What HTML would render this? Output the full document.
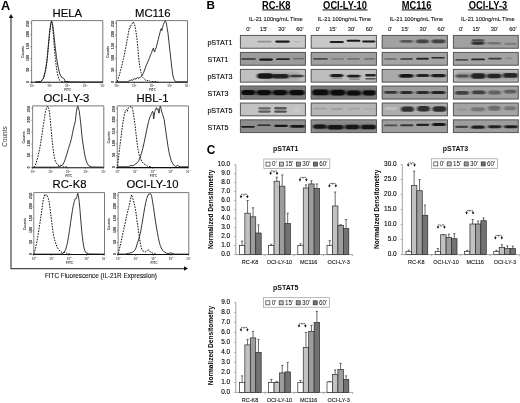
<!DOCTYPE html>
<html lang="en"><head><meta charset="utf-8"><title>Figure</title>
<style>html,body{margin:0;padding:0;background:#fff;}svg{display:block;}text{font-family:'Liberation Sans', Arial, sans-serif;}</style>
</head><body>
<svg width="520" height="403" viewBox="0 0 520 403">
<defs>
<filter id="bl0" x="-20%" y="-200%" width="140%" height="500%"><feGaussianBlur stdDeviation="0.7 0.55"/></filter>
<filter id="bl1" x="-20%" y="-200%" width="140%" height="500%"><feGaussianBlur stdDeviation="0.9 0.75"/></filter>
<filter id="bl2" x="-20%" y="-200%" width="140%" height="500%"><feGaussianBlur stdDeviation="1.6 1.4"/></filter>
<filter id="soft" x="-5%" y="-5%" width="110%" height="110%"><feGaussianBlur stdDeviation="0.35"/></filter>
</defs>
<rect width="520" height="403" fill="#fff"/>
<g filter="url(#soft)">
<text x="0.90" y="10.40" font-size="11.9" font-weight="bold" text-anchor="start" fill="#000" textLength="9.2" lengthAdjust="spacingAndGlyphs">A</text>
<path d="M11.0 17 V268.5 H184.5" fill="none" stroke="#4a4a4a" stroke-width="1.25"/>
<path d="M11.0 14.0 L8.8 18.0 H13.2 Z" fill="#111"/>
<path d="M188 268.5 L184 266.3 V270.7 Z" fill="#111"/>
<text transform="translate(6.60,136.50) rotate(-90)" font-size="6.4" font-weight="normal" text-anchor="middle" fill="#333">Counts</text>
<text x="45.00" y="278.20" font-size="6.34" font-weight="normal" text-anchor="start" fill="#111" stroke="#111" stroke-width="0.1">FITC Fluorescence (IL-21R Expression)</text>
<text x="67.30" y="17.30" font-size="11.3" font-weight="normal" text-anchor="middle" fill="#000" stroke="#000" stroke-width="0.15">HELA</text>
<path d="M31.60 20.60 H102.80 V82.30" fill="none" stroke="#555" stroke-width="0.8"/>
<path d="M31.60 20.60 V82.30" fill="none" stroke="#777" stroke-width="0.9"/>
<path d="M30.60 82.30 H102.80" fill="none" stroke="#111" stroke-width="1.1"/>
<path d="M30.20 82.30 H31.60" stroke="#444" stroke-width="0.5"/>
<text transform="translate(29.40,82.00) rotate(-90)" font-size="3.7" font-weight="bold" text-anchor="middle" fill="#222">0</text>
<path d="M30.20 70.46 H31.60" stroke="#444" stroke-width="0.5"/>
<text transform="translate(29.40,69.76) rotate(-90)" font-size="3.7" font-weight="bold" text-anchor="middle" fill="#111">50</text>
<path d="M30.20 58.62 H31.60" stroke="#444" stroke-width="0.5"/>
<text transform="translate(29.40,57.92) rotate(-90)" font-size="3.7" font-weight="bold" text-anchor="middle" fill="#111">100</text>
<path d="M30.20 46.78 H31.60" stroke="#444" stroke-width="0.5"/>
<text transform="translate(29.40,46.08) rotate(-90)" font-size="3.7" font-weight="bold" text-anchor="middle" fill="#111">150</text>
<path d="M30.20 34.94 H31.60" stroke="#444" stroke-width="0.5"/>
<text transform="translate(29.40,34.24) rotate(-90)" font-size="3.7" font-weight="bold" text-anchor="middle" fill="#111">200</text>
<path d="M30.20 23.10 H31.60" stroke="#444" stroke-width="0.5"/>
<text transform="translate(29.40,23.80) rotate(-90)" font-size="3.7" font-weight="bold" text-anchor="middle" fill="#111">250</text>
<text transform="translate(23.80,52.05) rotate(-90)" font-size="3.5" font-weight="bold" text-anchor="middle" fill="#333">Counts</text>
<path d="M31.60 82.30 V83.70" stroke="#444" stroke-width="0.5"/>
<text x="31.90" y="87.30" font-size="3.0" font-weight="bold" text-anchor="middle" fill="#555">10<tspan dy="-1.2" font-size="2.4">0</tspan></text>
<path d="M49.27 82.30 V83.70" stroke="#444" stroke-width="0.5"/>
<text x="49.57" y="87.30" font-size="3.0" font-weight="bold" text-anchor="middle" fill="#555">10<tspan dy="-1.2" font-size="2.4">1</tspan></text>
<path d="M66.95 82.30 V83.70" stroke="#444" stroke-width="0.5"/>
<text x="67.25" y="87.30" font-size="3.0" font-weight="bold" text-anchor="middle" fill="#555">10<tspan dy="-1.2" font-size="2.4">2</tspan></text>
<path d="M84.62 82.30 V83.70" stroke="#444" stroke-width="0.5"/>
<text x="84.92" y="87.30" font-size="3.0" font-weight="bold" text-anchor="middle" fill="#555">10<tspan dy="-1.2" font-size="2.4">3</tspan></text>
<path d="M102.30 82.30 V83.70" stroke="#444" stroke-width="0.5"/>
<text x="102.60" y="87.30" font-size="3.0" font-weight="bold" text-anchor="middle" fill="#555">10<tspan dy="-1.2" font-size="2.4">4</tspan></text>
<text x="67.80" y="91.30" font-size="3.3" font-weight="bold" text-anchor="middle" fill="#444" >FITC</text>
<polyline points="35.61,81.80 41.03,81.80 43.74,77.93 45.68,70.19 47.22,59.55 48.58,45.03 49.93,30.52 50.90,23.35 51.68,21.42 52.64,26.64 53.42,35.35 54.39,47.93 55.35,58.58 56.51,68.25 57.68,75.03 59.22,79.87 61.74,81.61 68.51,81.80" fill="none" stroke="#111" stroke-width="1.0" stroke-dasharray="1.6 1.2" stroke-linejoin="round"/>
<polyline points="35.61,81.80 40.45,81.80 43.35,78.32 45.29,71.16 46.84,61.48 48.19,46.97 49.55,32.45 50.71,23.74 51.48,20.90 52.45,23.74 53.42,30.52 54.97,45.03 56.51,57.61 58.06,66.71 59.80,74.06 61.74,77.54 63.67,78.32 65.61,81.42 70.45,81.80 82.06,82.00 102.80,82.00" fill="none" stroke="#1c1c1c" stroke-width="0.88" stroke-linejoin="round"/>
<text x="152.80" y="17.30" font-size="11.3" font-weight="normal" text-anchor="middle" fill="#000" stroke="#000" stroke-width="0.15">MC116</text>
<path d="M116.40 20.60 H187.50 V82.30" fill="none" stroke="#555" stroke-width="0.8"/>
<path d="M116.40 20.60 V82.30" fill="none" stroke="#777" stroke-width="0.9"/>
<path d="M115.40 82.30 H187.50" fill="none" stroke="#111" stroke-width="1.1"/>
<path d="M115.00 82.30 H116.40" stroke="#444" stroke-width="0.5"/>
<text transform="translate(114.20,82.00) rotate(-90)" font-size="3.7" font-weight="bold" text-anchor="middle" fill="#222">0</text>
<path d="M115.00 70.46 H116.40" stroke="#444" stroke-width="0.5"/>
<text transform="translate(114.20,69.76) rotate(-90)" font-size="3.7" font-weight="bold" text-anchor="middle" fill="#111">50</text>
<path d="M115.00 58.62 H116.40" stroke="#444" stroke-width="0.5"/>
<text transform="translate(114.20,57.92) rotate(-90)" font-size="3.7" font-weight="bold" text-anchor="middle" fill="#111">100</text>
<path d="M115.00 46.78 H116.40" stroke="#444" stroke-width="0.5"/>
<text transform="translate(114.20,46.08) rotate(-90)" font-size="3.7" font-weight="bold" text-anchor="middle" fill="#111">150</text>
<path d="M115.00 34.94 H116.40" stroke="#444" stroke-width="0.5"/>
<text transform="translate(114.20,34.24) rotate(-90)" font-size="3.7" font-weight="bold" text-anchor="middle" fill="#111">200</text>
<path d="M115.00 23.10 H116.40" stroke="#444" stroke-width="0.5"/>
<text transform="translate(114.20,23.80) rotate(-90)" font-size="3.7" font-weight="bold" text-anchor="middle" fill="#111">250</text>
<text transform="translate(108.60,52.05) rotate(-90)" font-size="3.5" font-weight="bold" text-anchor="middle" fill="#333">Counts</text>
<path d="M116.40 82.30 V83.70" stroke="#444" stroke-width="0.5"/>
<text x="116.70" y="87.30" font-size="3.0" font-weight="bold" text-anchor="middle" fill="#555">10<tspan dy="-1.2" font-size="2.4">0</tspan></text>
<path d="M134.05 82.30 V83.70" stroke="#444" stroke-width="0.5"/>
<text x="134.35" y="87.30" font-size="3.0" font-weight="bold" text-anchor="middle" fill="#555">10<tspan dy="-1.2" font-size="2.4">1</tspan></text>
<path d="M151.70 82.30 V83.70" stroke="#444" stroke-width="0.5"/>
<text x="152.00" y="87.30" font-size="3.0" font-weight="bold" text-anchor="middle" fill="#555">10<tspan dy="-1.2" font-size="2.4">2</tspan></text>
<path d="M169.35 82.30 V83.70" stroke="#444" stroke-width="0.5"/>
<text x="169.65" y="87.30" font-size="3.0" font-weight="bold" text-anchor="middle" fill="#555">10<tspan dy="-1.2" font-size="2.4">3</tspan></text>
<path d="M187.00 82.30 V83.70" stroke="#444" stroke-width="0.5"/>
<text x="187.30" y="87.30" font-size="3.0" font-weight="bold" text-anchor="middle" fill="#555">10<tspan dy="-1.2" font-size="2.4">4</tspan></text>
<text x="152.55" y="91.30" font-size="3.3" font-weight="bold" text-anchor="middle" fill="#444" >FITC</text>
<polyline points="117.29,81.42 118.06,78.90 119.61,74.06 121.55,66.71 123.48,58.58 125.42,49.29 127.35,39.22 128.51,32.45 129.68,26.64 130.45,27.61 131.22,24.71 132.19,23.74 133.16,21.81 134.13,23.35 135.10,26.64 136.06,32.45 137.03,39.22 138.00,49.87 138.97,60.51 139.93,67.29 140.90,72.13 141.87,75.61 142.84,77.54 144.77,79.48 146.71,80.83 148.64,80.25 150.58,81.80 154.45,81.42 158.32,82.00" fill="none" stroke="#111" stroke-width="1.0" stroke-dasharray="1.6 1.2" stroke-linejoin="round"/>
<polyline points="117.29,81.80 127.35,81.80 129.68,80.64 131.22,79.87 132.77,80.25 134.13,78.71 136.06,79.09 137.42,77.54 138.97,78.32 140.51,76.77 141.87,76.00 142.84,74.06 143.80,72.13 145.16,68.25 146.71,64.38 148.26,60.90 149.61,57.61 150.58,54.71 151.55,52.77 152.51,49.87 153.48,47.93 154.06,50.84 154.64,52.00 155.42,49.29 156.38,46.97 157.35,43.10 158.32,39.22 159.29,35.35 160.25,31.48 161.22,28.58 161.80,30.71 162.58,27.61 163.35,24.71 164.13,22.77 165.09,20.90 166.06,21.81 167.03,27.23 168.00,33.42 168.96,42.13 169.93,50.84 170.90,59.55 171.87,68.25 172.83,75.03 173.80,78.90 175.35,81.42 177.67,81.80 187.50,81.80" fill="none" stroke="#1c1c1c" stroke-width="0.88" stroke-linejoin="round"/>
<text x="66.30" y="101.90" font-size="11.3" font-weight="normal" text-anchor="middle" fill="#000" stroke="#000" stroke-width="0.15">OCI-LY-3</text>
<path d="M32.60 105.90 H103.80 V167.80" fill="none" stroke="#555" stroke-width="0.8"/>
<path d="M32.60 105.90 V167.80" fill="none" stroke="#777" stroke-width="0.9"/>
<path d="M31.60 167.80 H103.80" fill="none" stroke="#111" stroke-width="1.1"/>
<path d="M31.20 167.80 H32.60" stroke="#444" stroke-width="0.5"/>
<text transform="translate(30.40,167.50) rotate(-90)" font-size="3.7" font-weight="bold" text-anchor="middle" fill="#222">0</text>
<path d="M31.20 155.92 H32.60" stroke="#444" stroke-width="0.5"/>
<text transform="translate(30.40,155.22) rotate(-90)" font-size="3.7" font-weight="bold" text-anchor="middle" fill="#111">50</text>
<path d="M31.20 144.04 H32.60" stroke="#444" stroke-width="0.5"/>
<text transform="translate(30.40,143.34) rotate(-90)" font-size="3.7" font-weight="bold" text-anchor="middle" fill="#111">100</text>
<path d="M31.20 132.16 H32.60" stroke="#444" stroke-width="0.5"/>
<text transform="translate(30.40,131.46) rotate(-90)" font-size="3.7" font-weight="bold" text-anchor="middle" fill="#111">150</text>
<path d="M31.20 120.28 H32.60" stroke="#444" stroke-width="0.5"/>
<text transform="translate(30.40,119.58) rotate(-90)" font-size="3.7" font-weight="bold" text-anchor="middle" fill="#111">200</text>
<path d="M31.20 108.40 H32.60" stroke="#444" stroke-width="0.5"/>
<text transform="translate(30.40,109.10) rotate(-90)" font-size="3.7" font-weight="bold" text-anchor="middle" fill="#111">250</text>
<text transform="translate(24.80,137.45) rotate(-90)" font-size="3.5" font-weight="bold" text-anchor="middle" fill="#333">Counts</text>
<path d="M32.60 167.80 V169.20" stroke="#444" stroke-width="0.5"/>
<text x="32.90" y="172.80" font-size="3.0" font-weight="bold" text-anchor="middle" fill="#555">10<tspan dy="-1.2" font-size="2.4">0</tspan></text>
<path d="M50.27 167.80 V169.20" stroke="#444" stroke-width="0.5"/>
<text x="50.57" y="172.80" font-size="3.0" font-weight="bold" text-anchor="middle" fill="#555">10<tspan dy="-1.2" font-size="2.4">1</tspan></text>
<path d="M67.95 167.80 V169.20" stroke="#444" stroke-width="0.5"/>
<text x="68.25" y="172.80" font-size="3.0" font-weight="bold" text-anchor="middle" fill="#555">10<tspan dy="-1.2" font-size="2.4">2</tspan></text>
<path d="M85.62 167.80 V169.20" stroke="#444" stroke-width="0.5"/>
<text x="85.92" y="172.80" font-size="3.0" font-weight="bold" text-anchor="middle" fill="#555">10<tspan dy="-1.2" font-size="2.4">3</tspan></text>
<path d="M103.30 167.80 V169.20" stroke="#444" stroke-width="0.5"/>
<text x="103.60" y="172.80" font-size="3.0" font-weight="bold" text-anchor="middle" fill="#555">10<tspan dy="-1.2" font-size="2.4">4</tspan></text>
<text x="68.80" y="176.80" font-size="3.3" font-weight="bold" text-anchor="middle" fill="#444" >FITC</text>
<polyline points="33.68,167.16 34.64,166.19 36.00,163.48 37.55,158.06 39.10,151.29 40.45,144.51 41.81,135.80 43.35,125.16 44.51,117.42 45.68,110.64 46.64,107.35 47.61,106.20 48.58,108.13 49.55,112.58 50.32,120.32 51.10,129.03 52.06,139.67 53.03,148.38 54.00,155.16 54.97,160.00 56.32,163.09 57.87,164.83 59.80,166.00 61.74,165.42 63.67,166.77 67.55,166.96" fill="none" stroke="#111" stroke-width="1.0" stroke-dasharray="1.6 1.2" stroke-linejoin="round"/>
<polyline points="33.29,167.16 56.90,167.16 59.80,166.38 62.71,164.83 64.26,161.93 65.61,158.06 66.96,153.80 68.51,148.38 70.06,143.55 71.42,138.71 72.38,133.87 73.35,129.03 74.32,125.16 75.29,121.29 75.87,116.45 76.45,111.23 77.22,107.74 77.80,106.20 78.38,108.13 79.16,110.64 79.93,116.45 80.51,121.29 81.29,129.03 82.06,136.77 83.03,144.13 84.00,150.32 84.96,155.74 85.93,160.00 87.48,163.87 88.83,165.80 91.74,166.96 103.74,167.16" fill="none" stroke="#1c1c1c" stroke-width="0.88" stroke-linejoin="round"/>
<text x="152.50" y="101.90" font-size="11.3" font-weight="normal" text-anchor="middle" fill="#000" stroke="#000" stroke-width="0.15">HBL-1</text>
<path d="M117.30 105.90 H188.50 V167.60" fill="none" stroke="#555" stroke-width="0.8"/>
<path d="M117.30 105.90 V167.60" fill="none" stroke="#777" stroke-width="0.9"/>
<path d="M116.30 167.60 H188.50" fill="none" stroke="#111" stroke-width="1.1"/>
<path d="M115.90 167.60 H117.30" stroke="#444" stroke-width="0.5"/>
<text transform="translate(115.10,167.30) rotate(-90)" font-size="3.7" font-weight="bold" text-anchor="middle" fill="#222">0</text>
<path d="M115.90 155.76 H117.30" stroke="#444" stroke-width="0.5"/>
<text transform="translate(115.10,155.06) rotate(-90)" font-size="3.7" font-weight="bold" text-anchor="middle" fill="#111">50</text>
<path d="M115.90 143.92 H117.30" stroke="#444" stroke-width="0.5"/>
<text transform="translate(115.10,143.22) rotate(-90)" font-size="3.7" font-weight="bold" text-anchor="middle" fill="#111">100</text>
<path d="M115.90 132.08 H117.30" stroke="#444" stroke-width="0.5"/>
<text transform="translate(115.10,131.38) rotate(-90)" font-size="3.7" font-weight="bold" text-anchor="middle" fill="#111">150</text>
<path d="M115.90 120.24 H117.30" stroke="#444" stroke-width="0.5"/>
<text transform="translate(115.10,119.54) rotate(-90)" font-size="3.7" font-weight="bold" text-anchor="middle" fill="#111">200</text>
<path d="M115.90 108.40 H117.30" stroke="#444" stroke-width="0.5"/>
<text transform="translate(115.10,109.10) rotate(-90)" font-size="3.7" font-weight="bold" text-anchor="middle" fill="#111">250</text>
<text transform="translate(109.50,137.35) rotate(-90)" font-size="3.5" font-weight="bold" text-anchor="middle" fill="#333">Counts</text>
<path d="M117.30 167.60 V169.00" stroke="#444" stroke-width="0.5"/>
<text x="117.60" y="172.60" font-size="3.0" font-weight="bold" text-anchor="middle" fill="#555">10<tspan dy="-1.2" font-size="2.4">0</tspan></text>
<path d="M134.97 167.60 V169.00" stroke="#444" stroke-width="0.5"/>
<text x="135.28" y="172.60" font-size="3.0" font-weight="bold" text-anchor="middle" fill="#555">10<tspan dy="-1.2" font-size="2.4">1</tspan></text>
<path d="M152.65 167.60 V169.00" stroke="#444" stroke-width="0.5"/>
<text x="152.95" y="172.60" font-size="3.0" font-weight="bold" text-anchor="middle" fill="#555">10<tspan dy="-1.2" font-size="2.4">2</tspan></text>
<path d="M170.32 167.60 V169.00" stroke="#444" stroke-width="0.5"/>
<text x="170.62" y="172.60" font-size="3.0" font-weight="bold" text-anchor="middle" fill="#555">10<tspan dy="-1.2" font-size="2.4">3</tspan></text>
<path d="M188.00 167.60 V169.00" stroke="#444" stroke-width="0.5"/>
<text x="188.30" y="172.60" font-size="3.0" font-weight="bold" text-anchor="middle" fill="#555">10<tspan dy="-1.2" font-size="2.4">4</tspan></text>
<text x="153.50" y="176.60" font-size="3.3" font-weight="bold" text-anchor="middle" fill="#444" >FITC</text>
<polyline points="117.68,165.80 118.26,160.00 119.61,148.38 120.97,137.74 122.52,125.16 123.87,117.03 125.42,110.64 126.58,109.68 127.35,111.23 128.32,107.74 129.68,107.35 131.22,106.20 132.19,107.74 132.77,110.06 133.93,117.42 135.10,125.16 136.06,134.45 137.03,142.58 138.00,149.35 138.97,154.19 140.32,158.06 141.87,161.54 143.80,163.87 145.74,164.83 147.67,166.19 151.55,166.77" fill="none" stroke="#111" stroke-width="1.0" stroke-dasharray="1.6 1.2" stroke-linejoin="round"/>
<polyline points="117.30,166.77 128.32,166.77 130.84,165.42 133.16,165.80 135.10,164.25 137.03,162.90 138.58,160.96 139.93,158.06 141.29,153.80 142.84,148.38 144.19,142.19 145.74,134.84 147.09,128.06 148.64,121.29 150.19,116.45 151.55,113.55 152.51,111.23 153.09,112.00 153.67,118.97 154.26,115.48 154.84,111.61 155.61,109.29 156.38,107.74 157.16,109.68 157.93,108.71 158.51,112.00 159.09,113.16 159.67,108.71 160.25,106.20 161.03,108.71 161.80,112.00 162.96,115.48 164.13,119.35 165.09,126.13 166.06,132.90 167.03,139.67 168.00,146.45 168.96,151.87 169.93,156.13 171.29,160.77 172.83,163.87 174.38,165.80 175.74,166.77 177.29,165.42 178.83,166.19 180.58,166.77 188.32,166.77" fill="none" stroke="#1c1c1c" stroke-width="0.88" stroke-linejoin="round"/>
<text x="69.50" y="188.30" font-size="11.3" font-weight="normal" text-anchor="middle" fill="#000" stroke="#000" stroke-width="0.15">RC-K8</text>
<path d="M33.80 192.60 H104.50 V254.50" fill="none" stroke="#555" stroke-width="0.8"/>
<path d="M33.80 192.60 V254.50" fill="none" stroke="#777" stroke-width="0.9"/>
<path d="M32.80 254.50 H104.50" fill="none" stroke="#111" stroke-width="1.1"/>
<path d="M32.40 254.50 H33.80" stroke="#444" stroke-width="0.5"/>
<text transform="translate(31.60,254.20) rotate(-90)" font-size="3.7" font-weight="bold" text-anchor="middle" fill="#222">0</text>
<path d="M32.40 242.62 H33.80" stroke="#444" stroke-width="0.5"/>
<text transform="translate(31.60,241.92) rotate(-90)" font-size="3.7" font-weight="bold" text-anchor="middle" fill="#111">50</text>
<path d="M32.40 230.74 H33.80" stroke="#444" stroke-width="0.5"/>
<text transform="translate(31.60,230.04) rotate(-90)" font-size="3.7" font-weight="bold" text-anchor="middle" fill="#111">100</text>
<path d="M32.40 218.86 H33.80" stroke="#444" stroke-width="0.5"/>
<text transform="translate(31.60,218.16) rotate(-90)" font-size="3.7" font-weight="bold" text-anchor="middle" fill="#111">150</text>
<path d="M32.40 206.98 H33.80" stroke="#444" stroke-width="0.5"/>
<text transform="translate(31.60,206.28) rotate(-90)" font-size="3.7" font-weight="bold" text-anchor="middle" fill="#111">200</text>
<path d="M32.40 195.10 H33.80" stroke="#444" stroke-width="0.5"/>
<text transform="translate(31.60,195.80) rotate(-90)" font-size="3.7" font-weight="bold" text-anchor="middle" fill="#111">250</text>
<text transform="translate(26.00,224.15) rotate(-90)" font-size="3.5" font-weight="bold" text-anchor="middle" fill="#333">Counts</text>
<path d="M33.80 254.50 V255.90" stroke="#444" stroke-width="0.5"/>
<text x="34.10" y="259.50" font-size="3.0" font-weight="bold" text-anchor="middle" fill="#555">10<tspan dy="-1.2" font-size="2.4">0</tspan></text>
<path d="M51.35 254.50 V255.90" stroke="#444" stroke-width="0.5"/>
<text x="51.65" y="259.50" font-size="3.0" font-weight="bold" text-anchor="middle" fill="#555">10<tspan dy="-1.2" font-size="2.4">1</tspan></text>
<path d="M68.90 254.50 V255.90" stroke="#444" stroke-width="0.5"/>
<text x="69.20" y="259.50" font-size="3.0" font-weight="bold" text-anchor="middle" fill="#555">10<tspan dy="-1.2" font-size="2.4">2</tspan></text>
<path d="M86.45 254.50 V255.90" stroke="#444" stroke-width="0.5"/>
<text x="86.75" y="259.50" font-size="3.0" font-weight="bold" text-anchor="middle" fill="#555">10<tspan dy="-1.2" font-size="2.4">3</tspan></text>
<path d="M104.00 254.50 V255.90" stroke="#444" stroke-width="0.5"/>
<text x="104.30" y="259.50" font-size="3.0" font-weight="bold" text-anchor="middle" fill="#555">10<tspan dy="-1.2" font-size="2.4">4</tspan></text>
<text x="69.75" y="263.50" font-size="3.3" font-weight="bold" text-anchor="middle" fill="#444" >FITC</text>
<polyline points="33.80,253.93 34.64,251.42 35.61,247.93 36.97,241.16 38.52,232.45 39.87,223.74 41.42,213.10 42.39,205.74 43.35,199.55 44.13,196.06 44.90,194.13 45.68,195.29 46.45,194.71 47.22,195.68 48.19,198.00 49.16,201.87 50.13,209.22 51.10,216.97 52.06,224.71 53.03,232.45 54.39,239.22 55.93,244.06 57.29,247.54 58.84,249.87 60.77,251.80 62.71,252.77 65.03,252.19 67.55,253.74 70.45,253.93" fill="none" stroke="#111" stroke-width="1.0" stroke-dasharray="1.6 1.2" stroke-linejoin="round"/>
<polyline points="33.80,254.12 60.77,254.12 62.71,253.54 64.26,252.19 65.61,249.87 66.58,246.38 67.55,242.13 68.51,236.71 69.48,230.51 70.45,223.74 71.42,216.97 72.38,210.77 73.35,205.35 74.32,201.48 75.29,198.58 76.06,198.77 76.64,197.61 77.22,195.29 77.80,193.35 78.38,196.06 79.16,201.48 79.93,209.22 80.51,216.97 81.29,225.67 82.06,234.38 83.03,242.13 84.00,247.93 84.96,251.03 85.93,252.77 88.83,253.93 104.32,254.12" fill="none" stroke="#1c1c1c" stroke-width="0.88" stroke-linejoin="round"/>
<text x="152.50" y="188.30" font-size="11.3" font-weight="normal" text-anchor="middle" fill="#000" stroke="#000" stroke-width="0.15">OCI-LY-10</text>
<path d="M118.10 192.60 H188.80 V254.50" fill="none" stroke="#555" stroke-width="0.8"/>
<path d="M118.10 192.60 V254.50" fill="none" stroke="#777" stroke-width="0.9"/>
<path d="M117.10 254.50 H188.80" fill="none" stroke="#111" stroke-width="1.1"/>
<path d="M116.70 254.50 H118.10" stroke="#444" stroke-width="0.5"/>
<text transform="translate(115.90,254.20) rotate(-90)" font-size="3.7" font-weight="bold" text-anchor="middle" fill="#222">0</text>
<path d="M116.70 242.62 H118.10" stroke="#444" stroke-width="0.5"/>
<text transform="translate(115.90,241.92) rotate(-90)" font-size="3.7" font-weight="bold" text-anchor="middle" fill="#111">50</text>
<path d="M116.70 230.74 H118.10" stroke="#444" stroke-width="0.5"/>
<text transform="translate(115.90,230.04) rotate(-90)" font-size="3.7" font-weight="bold" text-anchor="middle" fill="#111">100</text>
<path d="M116.70 218.86 H118.10" stroke="#444" stroke-width="0.5"/>
<text transform="translate(115.90,218.16) rotate(-90)" font-size="3.7" font-weight="bold" text-anchor="middle" fill="#111">150</text>
<path d="M116.70 206.98 H118.10" stroke="#444" stroke-width="0.5"/>
<text transform="translate(115.90,206.28) rotate(-90)" font-size="3.7" font-weight="bold" text-anchor="middle" fill="#111">200</text>
<path d="M116.70 195.10 H118.10" stroke="#444" stroke-width="0.5"/>
<text transform="translate(115.90,195.80) rotate(-90)" font-size="3.7" font-weight="bold" text-anchor="middle" fill="#111">250</text>
<text transform="translate(110.30,224.15) rotate(-90)" font-size="3.5" font-weight="bold" text-anchor="middle" fill="#333">Counts</text>
<path d="M118.10 254.50 V255.90" stroke="#444" stroke-width="0.5"/>
<text x="118.40" y="259.50" font-size="3.0" font-weight="bold" text-anchor="middle" fill="#555">10<tspan dy="-1.2" font-size="2.4">0</tspan></text>
<path d="M135.65 254.50 V255.90" stroke="#444" stroke-width="0.5"/>
<text x="135.95" y="259.50" font-size="3.0" font-weight="bold" text-anchor="middle" fill="#555">10<tspan dy="-1.2" font-size="2.4">1</tspan></text>
<path d="M153.20 254.50 V255.90" stroke="#444" stroke-width="0.5"/>
<text x="153.50" y="259.50" font-size="3.0" font-weight="bold" text-anchor="middle" fill="#555">10<tspan dy="-1.2" font-size="2.4">2</tspan></text>
<path d="M170.75 254.50 V255.90" stroke="#444" stroke-width="0.5"/>
<text x="171.05" y="259.50" font-size="3.0" font-weight="bold" text-anchor="middle" fill="#555">10<tspan dy="-1.2" font-size="2.4">3</tspan></text>
<path d="M188.30 254.50 V255.90" stroke="#444" stroke-width="0.5"/>
<text x="188.60" y="259.50" font-size="3.0" font-weight="bold" text-anchor="middle" fill="#555">10<tspan dy="-1.2" font-size="2.4">4</tspan></text>
<text x="154.05" y="263.50" font-size="3.3" font-weight="bold" text-anchor="middle" fill="#444" >FITC</text>
<polyline points="118.10,253.74 119.23,249.48 120.58,244.06 121.93,237.87 123.48,230.51 125.03,223.74 126.39,216.97 127.74,211.16 129.29,205.35 130.45,199.55 131.61,194.71 132.39,196.64 133.16,199.55 134.13,203.42 135.10,207.29 136.06,213.48 137.03,220.84 138.00,227.61 138.97,234.38 139.93,241.16 140.90,246.00 141.87,249.09 142.84,250.83 144.38,251.80 145.74,251.80 147.29,250.45 148.64,249.87 149.61,251.22 150.58,251.80 152.13,252.96 153.48,253.74 156.38,253.93" fill="none" stroke="#111" stroke-width="1.0" stroke-dasharray="1.6 1.2" stroke-linejoin="round"/>
<polyline points="118.10,254.12 125.42,254.12 128.32,253.35 131.22,252.77 133.16,251.80 135.10,249.87 136.26,247.16 137.03,244.06 138.00,241.54 138.97,238.25 139.93,234.77 140.90,230.51 141.87,224.71 142.84,218.90 143.80,213.10 144.77,207.29 145.74,202.64 146.71,198.58 147.67,196.06 148.64,194.13 149.42,194.52 150.19,193.35 150.96,194.13 151.55,195.68 152.51,201.10 153.48,207.29 154.45,214.06 155.42,220.84 156.38,227.03 157.35,232.45 158.32,237.67 159.29,242.13 160.25,245.61 161.22,247.93 162.58,250.25 164.13,251.80 166.06,252.96 168.00,253.74 169.93,252.96 171.87,253.16 173.80,253.93 175.74,254.12 188.80,254.12" fill="none" stroke="#1c1c1c" stroke-width="0.88" stroke-linejoin="round"/>
<text x="206.50" y="9.20" font-size="11.7" font-weight="bold" text-anchor="start" fill="#000" >B</text>
<text x="207.40" y="45.10" font-size="7.15" font-weight="normal" text-anchor="start" fill="#000" stroke="#000" stroke-width="0.12">pSTAT1</text>
<text x="207.40" y="62.10" font-size="7.15" font-weight="normal" text-anchor="start" fill="#000" stroke="#000" stroke-width="0.12">STAT1</text>
<text x="207.40" y="79.05" font-size="7.15" font-weight="normal" text-anchor="start" fill="#000" stroke="#000" stroke-width="0.12">pSTAT3</text>
<text x="207.40" y="95.85" font-size="7.15" font-weight="normal" text-anchor="start" fill="#000" stroke="#000" stroke-width="0.12">STAT3</text>
<text x="207.40" y="112.75" font-size="7.15" font-weight="normal" text-anchor="start" fill="#000" stroke="#000" stroke-width="0.12">pSTAT5</text>
<text x="207.40" y="129.55" font-size="7.15" font-weight="normal" text-anchor="start" fill="#000" stroke="#000" stroke-width="0.12">STAT5</text>
<text transform="translate(276.30,8.75) scale(0.925,1)" font-size="10.1" font-weight="bold" text-anchor="middle" fill="#000">RC-K8</text>
<rect x="262.09" y="9.45" width="28.41" height="0.95" fill="#000"/>
<text x="275.80" y="20.90" font-size="5.7" font-weight="normal" text-anchor="middle" fill="#111" stroke="#111" stroke-width="0.1">IL-21 100ng/mL Time</text>
<text x="248.40" y="30.90" font-size="5.7" font-weight="normal" text-anchor="middle" fill="#111" stroke="#111" stroke-width="0.1">0'</text>
<text x="263.70" y="30.90" font-size="5.7" font-weight="normal" text-anchor="middle" fill="#111" stroke="#111" stroke-width="0.1">15'</text>
<text x="281.80" y="30.90" font-size="5.7" font-weight="normal" text-anchor="middle" fill="#111" stroke="#111" stroke-width="0.1">30'</text>
<text x="299.90" y="30.90" font-size="5.7" font-weight="normal" text-anchor="middle" fill="#111" stroke="#111" stroke-width="0.1">60'</text>
<clipPath id="c00"><rect x="240.0" y="35.0" width="65.80" height="13.60"/></clipPath>
<rect x="240.0" y="35.0" width="65.80" height="13.60" fill="#c8c8c8"/>
<g clip-path="url(#c00)">
<rect x="257" y="40.80" width="15.00" height="1.6" rx="1.80" ry="0.80" fill="#0c0c0c" opacity="0.28" filter="url(#bl0)"/>
<rect x="275" y="40.50" width="15.00" height="2.2" rx="2.10" ry="1.10" fill="#0c0c0c" opacity="0.9" filter="url(#bl0)"/>
<rect x="294" y="41.00" width="7.00" height="1.2" rx="1.60" ry="0.60" fill="#0c0c0c" opacity="0.12" filter="url(#bl0)"/>
</g>
<rect x="240.4" y="35.4" width="65.00" height="12.80" fill="none" stroke="#555" stroke-width="0.95"/>
<clipPath id="c01"><rect x="240.0" y="52.0" width="65.80" height="13.60"/></clipPath>
<rect x="240.0" y="52.0" width="65.80" height="13.60" fill="#9b9b9b"/>
<g clip-path="url(#c01)">
<rect x="241" y="58.35" width="15.00" height="1.3" rx="1.65" ry="0.65" fill="#0c0c0c" opacity="0.75" filter="url(#bl0)"/>
<rect x="259" y="58.50" width="14.00" height="2.2" rx="2.10" ry="1.10" fill="#0c0c0c" opacity="0.95" filter="url(#bl0)"/>
<rect x="276" y="58.30" width="14.00" height="1.8" rx="1.90" ry="0.90" fill="#0c0c0c" opacity="0.85" filter="url(#bl0)"/>
<rect x="293" y="58.30" width="11.00" height="1.0" rx="1.50" ry="0.50" fill="#0c0c0c" opacity="0.5" filter="url(#bl0)"/>
</g>
<rect x="240.4" y="52.4" width="65.00" height="12.80" fill="none" stroke="#555" stroke-width="0.95"/>
<clipPath id="c02"><rect x="240.0" y="69.0" width="65.80" height="13.50"/></clipPath>
<rect x="240.0" y="69.0" width="65.80" height="13.50" fill="#c0c0c0"/>
<g clip-path="url(#c02)">
<rect x="257" y="73.20" width="16.50" height="5.6" rx="3.80" ry="2.80" fill="#0c0c0c" opacity="0.95" filter="url(#bl1)"/>
<rect x="272" y="74.00" width="17.00" height="4.4" rx="3.20" ry="2.20" fill="#0c0c0c" opacity="0.85" filter="url(#bl1)"/>
<rect x="290" y="74.70" width="14.00" height="2.6" rx="2.30" ry="1.30" fill="#0c0c0c" opacity="0.7" filter="url(#bl1)"/>
<rect x="262" y="72.00" width="38.00" height="8" rx="5.00" ry="4.00" fill="#0c0c0c" opacity="0.15" filter="url(#bl2)"/>
</g>
<rect x="240.4" y="69.4" width="65.00" height="12.70" fill="none" stroke="#555" stroke-width="0.95"/>
<clipPath id="c03"><rect x="240.0" y="85.7" width="65.80" height="13.70"/></clipPath>
<rect x="240.0" y="85.7" width="65.80" height="13.70" fill="#848484"/>
<g clip-path="url(#c03)">
<rect x="241" y="90.10" width="14.50" height="5.0" rx="3.50" ry="2.50" fill="#0c0c0c" opacity="1.0" filter="url(#bl1)"/>
<rect x="256.5" y="89.90" width="15.00" height="5.4" rx="3.70" ry="2.70" fill="#0c0c0c" opacity="1.0" filter="url(#bl1)"/>
<rect x="272.5" y="90.00" width="15.00" height="5.2" rx="3.60" ry="2.60" fill="#0c0c0c" opacity="1.0" filter="url(#bl1)"/>
<rect x="289" y="90.00" width="15.80" height="5.2" rx="3.60" ry="2.60" fill="#0c0c0c" opacity="1.0" filter="url(#bl1)"/>
<rect x="241" y="88.60" width="64.00" height="8" rx="5.00" ry="4.00" fill="#0c0c0c" opacity="0.2" filter="url(#bl2)"/>
</g>
<rect x="240.4" y="86.10000000000001" width="65.00" height="12.90" fill="none" stroke="#555" stroke-width="0.95"/>
<clipPath id="c04"><rect x="240.0" y="102.7" width="65.80" height="13.50"/></clipPath>
<rect x="240.0" y="102.7" width="65.80" height="13.50" fill="#c2c2c2"/>
<g clip-path="url(#c04)">
<rect x="258" y="107.15" width="13.00" height="2.3" rx="2.15" ry="1.15" fill="#0c0c0c" opacity="0.5" filter="url(#bl0)"/>
<rect x="258" y="110.45" width="13.00" height="2.3" rx="2.15" ry="1.15" fill="#0c0c0c" opacity="0.55" filter="url(#bl0)"/>
<rect x="274" y="107.10" width="13.00" height="2.4" rx="2.20" ry="1.20" fill="#0c0c0c" opacity="0.58" filter="url(#bl0)"/>
<rect x="274" y="110.40" width="13.00" height="2.4" rx="2.20" ry="1.20" fill="#0c0c0c" opacity="0.62" filter="url(#bl0)"/>
<rect x="293" y="107.00" width="8.00" height="5" rx="3.50" ry="2.50" fill="#ffffff" opacity="0.12" filter="url(#bl1)"/>
</g>
<rect x="240.4" y="103.10000000000001" width="65.00" height="12.70" fill="none" stroke="#555" stroke-width="0.95"/>
<clipPath id="c05"><rect x="240.0" y="119.5" width="65.80" height="13.50"/></clipPath>
<rect x="240.0" y="119.5" width="65.80" height="13.50" fill="#8d8d8d"/>
<g clip-path="url(#c05)">
<rect x="241" y="125.90" width="14.00" height="1.8" rx="1.90" ry="0.90" fill="#0c0c0c" opacity="0.9" filter="url(#bl0)"/>
<rect x="257" y="124.45" width="14.00" height="1.5" rx="1.75" ry="0.75" fill="#0c0c0c" opacity="0.75" filter="url(#bl0)"/>
<rect x="274" y="124.70" width="14.00" height="2.2" rx="2.10" ry="1.10" fill="#0c0c0c" opacity="0.9" filter="url(#bl0)"/>
<rect x="290" y="125.10" width="15.00" height="2.6" rx="2.30" ry="1.30" fill="#0c0c0c" opacity="0.95" filter="url(#bl1)"/>
</g>
<rect x="240.4" y="119.9" width="65.00" height="12.70" fill="none" stroke="#555" stroke-width="0.95"/>
<text transform="translate(345.00,8.75) scale(0.925,1)" font-size="10.1" font-weight="bold" text-anchor="middle" fill="#000">OCI-LY-10</text>
<rect x="322.52" y="9.45" width="44.96" height="0.95" fill="#000"/>
<text x="344.50" y="20.90" font-size="5.7" font-weight="normal" text-anchor="middle" fill="#111" stroke="#111" stroke-width="0.1">IL-21 100ng/mL Time</text>
<text x="317.80" y="30.90" font-size="5.7" font-weight="normal" text-anchor="middle" fill="#111" stroke="#111" stroke-width="0.1">0'</text>
<text x="332.90" y="30.90" font-size="5.7" font-weight="normal" text-anchor="middle" fill="#111" stroke="#111" stroke-width="0.1">15'</text>
<text x="351.50" y="30.90" font-size="5.7" font-weight="normal" text-anchor="middle" fill="#111" stroke="#111" stroke-width="0.1">30'</text>
<text x="369.40" y="30.90" font-size="5.7" font-weight="normal" text-anchor="middle" fill="#111" stroke="#111" stroke-width="0.1">60'</text>
<clipPath id="c10"><rect x="310.8" y="35.0" width="66.00" height="13.60"/></clipPath>
<rect x="310.8" y="35.0" width="66.00" height="13.60" fill="#c8c8c8"/>
<g clip-path="url(#c10)">
<rect x="329.5" y="41.10" width="14.50" height="1.8" rx="1.90" ry="0.90" fill="#0c0c0c" opacity="0.9" filter="url(#bl0)"/>
<rect x="346.5" y="39.75" width="14.00" height="2.1" rx="2.05" ry="1.05" fill="#0c0c0c" opacity="0.95" filter="url(#bl0)"/>
<rect x="362" y="40.60" width="13.50" height="1.8" rx="1.90" ry="0.90" fill="#0c0c0c" opacity="0.92" filter="url(#bl0)"/>
</g>
<rect x="311.2" y="35.4" width="65.20" height="12.80" fill="none" stroke="#555" stroke-width="0.95"/>
<clipPath id="c11"><rect x="310.8" y="52.0" width="66.00" height="13.60"/></clipPath>
<rect x="310.8" y="52.0" width="66.00" height="13.60" fill="#a0a0a0"/>
<g clip-path="url(#c11)">
<rect x="313" y="58.20" width="15.00" height="1.4" rx="1.70" ry="0.70" fill="#0c0c0c" opacity="0.8" filter="url(#bl0)"/>
<rect x="331" y="58.30" width="13.00" height="1.2" rx="1.60" ry="0.60" fill="#0c0c0c" opacity="0.3" filter="url(#bl0)"/>
<rect x="347" y="58.25" width="13.00" height="1.3" rx="1.65" ry="0.65" fill="#0c0c0c" opacity="0.42" filter="url(#bl0)"/>
<rect x="364" y="58.25" width="11.00" height="1.3" rx="1.65" ry="0.65" fill="#0c0c0c" opacity="0.42" filter="url(#bl0)"/>
</g>
<rect x="311.2" y="52.4" width="65.20" height="12.80" fill="none" stroke="#555" stroke-width="0.95"/>
<clipPath id="c12"><rect x="310.8" y="69.0" width="66.00" height="13.50"/></clipPath>
<rect x="310.8" y="69.0" width="66.00" height="13.50" fill="#bebebe"/>
<g clip-path="url(#c12)">
<rect x="330" y="74.00" width="13.50" height="3.2" rx="2.60" ry="1.60" fill="#0c0c0c" opacity="0.92" filter="url(#bl1)"/>
<rect x="347" y="74.80" width="13.50" height="2.8" rx="2.40" ry="1.40" fill="#0c0c0c" opacity="0.9" filter="url(#bl1)"/>
<rect x="349" y="78.60" width="11.00" height="1.2" rx="1.60" ry="0.60" fill="#0c0c0c" opacity="0.35" filter="url(#bl0)"/>
<rect x="365" y="74.00" width="11.00" height="2.4" rx="2.20" ry="1.20" fill="#0c0c0c" opacity="0.85" filter="url(#bl0)"/>
<rect x="365" y="78.05" width="11.00" height="1.5" rx="1.75" ry="0.75" fill="#0c0c0c" opacity="0.6" filter="url(#bl0)"/>
<rect x="331" y="78.10" width="12.00" height="1.0" rx="1.50" ry="0.50" fill="#0c0c0c" opacity="0.25" filter="url(#bl0)"/>
</g>
<rect x="311.2" y="69.4" width="65.20" height="12.70" fill="none" stroke="#555" stroke-width="0.95"/>
<clipPath id="c13"><rect x="310.8" y="85.7" width="66.00" height="13.70"/></clipPath>
<rect x="310.8" y="85.7" width="66.00" height="13.70" fill="#858585"/>
<g clip-path="url(#c13)">
<rect x="312" y="89.50" width="17.00" height="5.8" rx="3.90" ry="2.90" fill="#0c0c0c" opacity="1.0" filter="url(#bl1)"/>
<rect x="330" y="89.80" width="15.50" height="5.6" rx="3.80" ry="2.80" fill="#0c0c0c" opacity="1.0" filter="url(#bl1)"/>
<rect x="346.5" y="90.40" width="14.50" height="5.2" rx="3.60" ry="2.60" fill="#0c0c0c" opacity="1.0" filter="url(#bl1)"/>
<rect x="362.5" y="90.20" width="13.50" height="5.2" rx="3.60" ry="2.60" fill="#0c0c0c" opacity="1.0" filter="url(#bl1)"/>
<rect x="312" y="88.35" width="64.00" height="8.5" rx="5.25" ry="4.25" fill="#0c0c0c" opacity="0.25" filter="url(#bl2)"/>
</g>
<rect x="311.2" y="86.10000000000001" width="65.20" height="12.90" fill="none" stroke="#555" stroke-width="0.95"/>
<clipPath id="c14"><rect x="310.8" y="102.7" width="66.00" height="13.50"/></clipPath>
<rect x="310.8" y="102.7" width="66.00" height="13.50" fill="#b6b6b6"/>
<g clip-path="url(#c14)">
<rect x="313" y="107.50" width="14.00" height="2.2" rx="2.10" ry="1.10" fill="#0c0c0c" opacity="0.1" filter="url(#bl0)"/>
<rect x="331" y="108.10" width="12.00" height="2.2" rx="2.10" ry="1.10" fill="#0c0c0c" opacity="0.12" filter="url(#bl0)"/>
<rect x="348" y="107.80" width="12.00" height="2.0" rx="2.00" ry="1.00" fill="#0c0c0c" opacity="0.1" filter="url(#bl0)"/>
<rect x="365" y="107.90" width="10.00" height="1.8" rx="1.90" ry="0.90" fill="#0c0c0c" opacity="0.06" filter="url(#bl0)"/>
</g>
<rect x="311.2" y="103.10000000000001" width="65.20" height="12.70" fill="none" stroke="#555" stroke-width="0.95"/>
<clipPath id="c15"><rect x="310.8" y="119.5" width="66.00" height="13.50"/></clipPath>
<rect x="310.8" y="119.5" width="66.00" height="13.50" fill="#939393"/>
<g clip-path="url(#c15)">
<rect x="313" y="124.40" width="13.50" height="4.4" rx="3.20" ry="2.20" fill="#0c0c0c" opacity="0.95" filter="url(#bl1)"/>
<rect x="327.5" y="125.00" width="16.00" height="4.4" rx="3.20" ry="2.20" fill="#0c0c0c" opacity="0.95" filter="url(#bl1)"/>
<rect x="345" y="124.80" width="14.50" height="4.4" rx="3.20" ry="2.20" fill="#0c0c0c" opacity="0.95" filter="url(#bl1)"/>
<rect x="361" y="124.70" width="15.00" height="4.6" rx="3.30" ry="2.30" fill="#0c0c0c" opacity="0.95" filter="url(#bl1)"/>
<rect x="313" y="123.25" width="63.00" height="7.5" rx="4.75" ry="3.75" fill="#0c0c0c" opacity="0.2" filter="url(#bl2)"/>
</g>
<rect x="311.2" y="119.9" width="65.20" height="12.70" fill="none" stroke="#555" stroke-width="0.95"/>
<text transform="translate(416.60,8.75) scale(0.925,1)" font-size="10.1" font-weight="bold" text-anchor="middle" fill="#000">MC116</text>
<rect x="401.61" y="9.45" width="29.97" height="0.95" fill="#000"/>
<text x="416.40" y="20.90" font-size="5.7" font-weight="normal" text-anchor="middle" fill="#111" stroke="#111" stroke-width="0.1">IL-21 100ng/mL Time</text>
<text x="390.00" y="30.90" font-size="5.7" font-weight="normal" text-anchor="middle" fill="#111" stroke="#111" stroke-width="0.1">0'</text>
<text x="405.00" y="30.90" font-size="5.7" font-weight="normal" text-anchor="middle" fill="#111" stroke="#111" stroke-width="0.1">15'</text>
<text x="423.30" y="30.90" font-size="5.7" font-weight="normal" text-anchor="middle" fill="#111" stroke="#111" stroke-width="0.1">30'</text>
<text x="441.30" y="30.90" font-size="5.7" font-weight="normal" text-anchor="middle" fill="#111" stroke="#111" stroke-width="0.1">60'</text>
<clipPath id="c20"><rect x="381.8" y="35.0" width="66.00" height="13.60"/></clipPath>
<rect x="381.8" y="35.0" width="66.00" height="13.60" fill="#a2a2a2"/>
<g clip-path="url(#c20)">
<rect x="400" y="40.00" width="13.00" height="2.8" rx="2.40" ry="1.40" fill="#0c0c0c" opacity="0.5" filter="url(#bl1)"/>
<rect x="416" y="39.60" width="13.00" height="3.6" rx="2.80" ry="1.80" fill="#0c0c0c" opacity="0.62" filter="url(#bl1)"/>
<rect x="431.5" y="39.60" width="14.00" height="3.6" rx="2.80" ry="1.80" fill="#0c0c0c" opacity="0.64" filter="url(#bl1)"/>
</g>
<rect x="382.2" y="35.4" width="65.20" height="12.80" fill="none" stroke="#555" stroke-width="0.95"/>
<clipPath id="c21"><rect x="381.8" y="52.0" width="66.00" height="13.60"/></clipPath>
<rect x="381.8" y="52.0" width="66.00" height="13.60" fill="#a3a3a3"/>
<g clip-path="url(#c21)">
<rect x="384" y="58.35" width="13.00" height="1.3" rx="1.65" ry="0.65" fill="#0c0c0c" opacity="0.4" filter="url(#bl0)"/>
<rect x="400" y="58.20" width="13.00" height="1.6" rx="1.80" ry="0.80" fill="#0c0c0c" opacity="0.75" filter="url(#bl0)"/>
<rect x="416" y="57.85" width="13.00" height="1.9" rx="1.95" ry="0.95" fill="#0c0c0c" opacity="0.82" filter="url(#bl0)"/>
<rect x="431" y="57.05" width="14.00" height="1.5" rx="1.75" ry="0.75" fill="#0c0c0c" opacity="0.8" filter="url(#bl0)"/>
</g>
<rect x="382.2" y="52.4" width="65.20" height="12.80" fill="none" stroke="#555" stroke-width="0.95"/>
<clipPath id="c22"><rect x="381.8" y="69.0" width="66.00" height="13.50"/></clipPath>
<rect x="381.8" y="69.0" width="66.00" height="13.50" fill="#aaaaaa"/>
<g clip-path="url(#c22)">
<rect x="399" y="73.90" width="14.50" height="3.8" rx="2.90" ry="1.90" fill="#0c0c0c" opacity="0.92" filter="url(#bl1)"/>
<rect x="416" y="74.10" width="13.50" height="3.0" rx="2.50" ry="1.50" fill="#0c0c0c" opacity="0.88" filter="url(#bl1)"/>
<rect x="431" y="74.00" width="15.00" height="3.2" rx="2.60" ry="1.60" fill="#0c0c0c" opacity="0.9" filter="url(#bl1)"/>
</g>
<rect x="382.2" y="69.4" width="65.20" height="12.70" fill="none" stroke="#555" stroke-width="0.95"/>
<clipPath id="c23"><rect x="381.8" y="85.7" width="66.00" height="13.70"/></clipPath>
<rect x="381.8" y="85.7" width="66.00" height="13.70" fill="#9b9b9b"/>
<g clip-path="url(#c23)">
<rect x="384" y="91.00" width="13.50" height="2.8" rx="2.40" ry="1.40" fill="#0c0c0c" opacity="0.72" filter="url(#bl1)"/>
<rect x="400" y="91.10" width="13.00" height="3.0" rx="2.50" ry="1.50" fill="#0c0c0c" opacity="0.78" filter="url(#bl1)"/>
<rect x="416" y="91.10" width="13.50" height="3.0" rx="2.50" ry="1.50" fill="#0c0c0c" opacity="0.78" filter="url(#bl1)"/>
<rect x="431" y="90.90" width="14.50" height="3.0" rx="2.50" ry="1.50" fill="#0c0c0c" opacity="0.85" filter="url(#bl1)"/>
</g>
<rect x="382.2" y="86.10000000000001" width="65.20" height="12.90" fill="none" stroke="#555" stroke-width="0.95"/>
<clipPath id="c24"><rect x="381.8" y="102.7" width="66.00" height="13.50"/></clipPath>
<rect x="381.8" y="102.7" width="66.00" height="13.50" fill="#adadad"/>
<g clip-path="url(#c24)">
<rect x="385" y="107.35" width="12.00" height="2.5" rx="2.25" ry="1.25" fill="#ffffff" opacity="0.25" filter="url(#bl0)"/>
<rect x="401" y="106.60" width="13.00" height="5.2" rx="3.60" ry="2.60" fill="#0c0c0c" opacity="0.76" filter="url(#bl1)"/>
<rect x="417" y="106.10" width="13.00" height="5.4" rx="3.70" ry="2.70" fill="#0c0c0c" opacity="0.78" filter="url(#bl1)"/>
<rect x="432.5" y="106.30" width="14.00" height="5.4" rx="3.70" ry="2.70" fill="#0c0c0c" opacity="0.8" filter="url(#bl1)"/>
</g>
<rect x="382.2" y="103.10000000000001" width="65.20" height="12.70" fill="none" stroke="#555" stroke-width="0.95"/>
<clipPath id="c25"><rect x="381.8" y="119.5" width="66.00" height="13.50"/></clipPath>
<rect x="381.8" y="119.5" width="66.00" height="13.50" fill="#9d9d9d"/>
<g clip-path="url(#c25)">
<rect x="384" y="124.45" width="13.50" height="1.9" rx="1.95" ry="0.95" fill="#0c0c0c" opacity="0.55" filter="url(#bl0)"/>
<rect x="400" y="124.15" width="13.50" height="2.1" rx="2.05" ry="1.05" fill="#0c0c0c" opacity="0.7" filter="url(#bl0)"/>
<rect x="416" y="123.70" width="13.50" height="2.2" rx="2.10" ry="1.10" fill="#0c0c0c" opacity="0.85" filter="url(#bl0)"/>
<rect x="432" y="122.90" width="14.00" height="3.0" rx="2.50" ry="1.50" fill="#0c0c0c" opacity="0.92" filter="url(#bl1)"/>
</g>
<rect x="382.2" y="119.9" width="65.20" height="12.70" fill="none" stroke="#555" stroke-width="0.95"/>
<text transform="translate(488.00,8.75) scale(0.925,1)" font-size="10.1" font-weight="bold" text-anchor="middle" fill="#000">OCI-LY-3</text>
<rect x="468.11" y="9.45" width="39.79" height="0.95" fill="#000"/>
<text x="487.80" y="20.90" font-size="5.7" font-weight="normal" text-anchor="middle" fill="#111" stroke="#111" stroke-width="0.1">IL-21 100ng/mL Time</text>
<text x="461.00" y="30.90" font-size="5.7" font-weight="normal" text-anchor="middle" fill="#111" stroke="#111" stroke-width="0.1">0'</text>
<text x="476.20" y="30.90" font-size="5.7" font-weight="normal" text-anchor="middle" fill="#111" stroke="#111" stroke-width="0.1">15'</text>
<text x="494.40" y="30.90" font-size="5.7" font-weight="normal" text-anchor="middle" fill="#111" stroke="#111" stroke-width="0.1">30'</text>
<text x="512.90" y="30.90" font-size="5.7" font-weight="normal" text-anchor="middle" fill="#111" stroke="#111" stroke-width="0.1">60'</text>
<clipPath id="c30"><rect x="453.0" y="35.0" width="65.60" height="13.60"/></clipPath>
<rect x="453.0" y="35.0" width="65.60" height="13.60" fill="#a1a1a1"/>
<g clip-path="url(#c30)">
<rect x="471.5" y="39.20" width="13.00" height="2.2" rx="2.10" ry="1.10" fill="#0c0c0c" opacity="0.42" filter="url(#bl0)"/>
<rect x="471.5" y="41.90" width="13.00" height="2.8" rx="2.40" ry="1.40" fill="#0c0c0c" opacity="0.68" filter="url(#bl1)"/>
<rect x="471.5" y="39.25" width="13.00" height="5.5" rx="3.75" ry="2.75" fill="#0c0c0c" opacity="0.25" filter="url(#bl1)"/>
<rect x="487" y="41.90" width="14.00" height="2.6" rx="2.30" ry="1.30" fill="#0c0c0c" opacity="0.32" filter="url(#bl1)"/>
<rect x="504" y="42.70" width="13.00" height="2.2" rx="2.10" ry="1.10" fill="#0c0c0c" opacity="0.24" filter="url(#bl0)"/>
</g>
<rect x="453.4" y="35.4" width="64.80" height="12.80" fill="none" stroke="#555" stroke-width="0.95"/>
<clipPath id="c31"><rect x="453.0" y="52.0" width="65.60" height="13.60"/></clipPath>
<rect x="453.0" y="52.0" width="65.60" height="13.60" fill="#a3a3a3"/>
<g clip-path="url(#c31)">
<rect x="455" y="58.95" width="13.50" height="1.7" rx="1.85" ry="0.85" fill="#0c0c0c" opacity="0.6" filter="url(#bl0)"/>
<rect x="471" y="58.45" width="14.00" height="1.9" rx="1.95" ry="0.95" fill="#0c0c0c" opacity="0.8" filter="url(#bl0)"/>
<rect x="488" y="57.65" width="14.00" height="1.9" rx="1.95" ry="0.95" fill="#0c0c0c" opacity="0.68" filter="url(#bl0)"/>
<rect x="505" y="57.60" width="8.00" height="1.6" rx="1.80" ry="0.80" fill="#0c0c0c" opacity="0.15" filter="url(#bl0)"/>
</g>
<rect x="453.4" y="52.4" width="64.80" height="12.80" fill="none" stroke="#555" stroke-width="0.95"/>
<clipPath id="c32"><rect x="453.0" y="69.0" width="65.60" height="13.50"/></clipPath>
<rect x="453.0" y="69.0" width="65.60" height="13.50" fill="#bcbcbc"/>
<g clip-path="url(#c32)">
<rect x="455" y="74.40" width="14.00" height="3.2" rx="2.60" ry="1.60" fill="#0c0c0c" opacity="0.5" filter="url(#bl1)"/>
<rect x="471" y="73.30" width="14.50" height="5.4" rx="3.70" ry="2.70" fill="#0c0c0c" opacity="0.85" filter="url(#bl1)"/>
<rect x="487" y="73.80" width="14.50" height="4.4" rx="3.20" ry="2.20" fill="#0c0c0c" opacity="0.8" filter="url(#bl1)"/>
<rect x="503" y="73.10" width="15.00" height="4.6" rx="3.30" ry="2.30" fill="#0c0c0c" opacity="0.8" filter="url(#bl1)"/>
<rect x="456" y="72.75" width="62.00" height="6.5" rx="4.25" ry="3.25" fill="#0c0c0c" opacity="0.22" filter="url(#bl2)"/>
</g>
<rect x="453.4" y="69.4" width="64.80" height="12.70" fill="none" stroke="#555" stroke-width="0.95"/>
<clipPath id="c33"><rect x="453.0" y="85.7" width="65.60" height="13.70"/></clipPath>
<rect x="453.0" y="85.7" width="65.60" height="13.70" fill="#a1a1a1"/>
<g clip-path="url(#c33)">
<rect x="455" y="90.90" width="14.00" height="3.8" rx="2.90" ry="1.90" fill="#0c0c0c" opacity="0.66" filter="url(#bl1)"/>
<rect x="472" y="90.50" width="13.50" height="3.8" rx="2.90" ry="1.90" fill="#0c0c0c" opacity="0.66" filter="url(#bl1)"/>
<rect x="488" y="90.40" width="13.00" height="4.0" rx="3.00" ry="2.00" fill="#0c0c0c" opacity="0.42" filter="url(#bl1)"/>
<rect x="504" y="89.70" width="12.50" height="3.8" rx="2.90" ry="1.90" fill="#0c0c0c" opacity="0.45" filter="url(#bl1)"/>
</g>
<rect x="453.4" y="86.10000000000001" width="64.80" height="12.90" fill="none" stroke="#555" stroke-width="0.95"/>
<clipPath id="c34"><rect x="453.0" y="102.7" width="65.60" height="13.50"/></clipPath>
<rect x="453.0" y="102.7" width="65.60" height="13.50" fill="#a5a5a5"/>
<g clip-path="url(#c34)">
<rect x="457" y="108.00" width="10.00" height="3.0" rx="2.50" ry="1.50" fill="#0c0c0c" opacity="0.08" filter="url(#bl1)"/>
<rect x="471" y="107.20" width="14.00" height="4.0" rx="3.00" ry="2.00" fill="#0c0c0c" opacity="0.3" filter="url(#bl1)"/>
<rect x="488" y="105.70" width="12.50" height="5.0" rx="3.50" ry="2.50" fill="#0c0c0c" opacity="0.36" filter="url(#bl1)"/>
<rect x="504" y="106.20" width="12.00" height="4.0" rx="3.00" ry="2.00" fill="#0c0c0c" opacity="0.3" filter="url(#bl1)"/>
</g>
<rect x="453.4" y="103.10000000000001" width="64.80" height="12.70" fill="none" stroke="#555" stroke-width="0.95"/>
<clipPath id="c35"><rect x="453.0" y="119.5" width="65.60" height="13.50"/></clipPath>
<rect x="453.0" y="119.5" width="65.60" height="13.50" fill="#9d9d9d"/>
<g clip-path="url(#c35)">
<rect x="455" y="125.70" width="13.50" height="2.2" rx="2.10" ry="1.10" fill="#0c0c0c" opacity="0.62" filter="url(#bl0)"/>
<rect x="471" y="125.60" width="14.00" height="3.2" rx="2.60" ry="1.60" fill="#0c0c0c" opacity="0.88" filter="url(#bl1)"/>
<rect x="488" y="125.35" width="13.50" height="2.9" rx="2.45" ry="1.45" fill="#0c0c0c" opacity="0.86" filter="url(#bl1)"/>
<rect x="504" y="125.35" width="14.00" height="2.9" rx="2.45" ry="1.45" fill="#0c0c0c" opacity="0.88" filter="url(#bl1)"/>
</g>
<rect x="453.4" y="119.9" width="64.80" height="12.70" fill="none" stroke="#555" stroke-width="0.95"/>
<text x="206.70" y="154.40" font-size="11.9" font-weight="bold" text-anchor="start" fill="#000" >C</text>
<path d="M235.8 164.60 V254.60 H352.6" fill="none" stroke="#8a8a8a" stroke-width="0.8"/>
<path d="M234.20000000000002 254.60 H235.8" stroke="#8a8a8a" stroke-width="0.7"/>
<text x="230.10" y="256.30" font-size="6.45" font-weight="normal" text-anchor="end" fill="#000" stroke="#000" stroke-width="0.12">0.0</text>
<path d="M234.20000000000002 245.60 H235.8" stroke="#8a8a8a" stroke-width="0.7"/>
<text x="230.10" y="247.30" font-size="6.45" font-weight="normal" text-anchor="end" fill="#000" stroke="#000" stroke-width="0.12">1.0</text>
<path d="M234.20000000000002 236.60 H235.8" stroke="#8a8a8a" stroke-width="0.7"/>
<text x="230.10" y="238.30" font-size="6.45" font-weight="normal" text-anchor="end" fill="#000" stroke="#000" stroke-width="0.12">2.0</text>
<path d="M234.20000000000002 227.60 H235.8" stroke="#8a8a8a" stroke-width="0.7"/>
<text x="230.10" y="229.30" font-size="6.45" font-weight="normal" text-anchor="end" fill="#000" stroke="#000" stroke-width="0.12">3.0</text>
<path d="M234.20000000000002 218.60 H235.8" stroke="#8a8a8a" stroke-width="0.7"/>
<text x="230.10" y="220.30" font-size="6.45" font-weight="normal" text-anchor="end" fill="#000" stroke="#000" stroke-width="0.12">4.0</text>
<path d="M234.20000000000002 209.60 H235.8" stroke="#8a8a8a" stroke-width="0.7"/>
<text x="230.10" y="211.30" font-size="6.45" font-weight="normal" text-anchor="end" fill="#000" stroke="#000" stroke-width="0.12">5.0</text>
<path d="M234.20000000000002 200.60 H235.8" stroke="#8a8a8a" stroke-width="0.7"/>
<text x="230.10" y="202.30" font-size="6.45" font-weight="normal" text-anchor="end" fill="#000" stroke="#000" stroke-width="0.12">6.0</text>
<path d="M234.20000000000002 191.60 H235.8" stroke="#8a8a8a" stroke-width="0.7"/>
<text x="230.10" y="193.30" font-size="6.45" font-weight="normal" text-anchor="end" fill="#000" stroke="#000" stroke-width="0.12">7.0</text>
<path d="M234.20000000000002 182.60 H235.8" stroke="#8a8a8a" stroke-width="0.7"/>
<text x="230.10" y="184.30" font-size="6.45" font-weight="normal" text-anchor="end" fill="#000" stroke="#000" stroke-width="0.12">8.0</text>
<path d="M234.20000000000002 173.60 H235.8" stroke="#8a8a8a" stroke-width="0.7"/>
<text x="230.10" y="175.30" font-size="6.45" font-weight="normal" text-anchor="end" fill="#000" stroke="#000" stroke-width="0.12">9.0</text>
<path d="M234.20000000000002 164.60 H235.8" stroke="#8a8a8a" stroke-width="0.7"/>
<text x="230.10" y="166.30" font-size="6.45" font-weight="normal" text-anchor="end" fill="#000" stroke="#000" stroke-width="0.12">10.0</text>
<path d="M265.00 254.60 V256.20" stroke="#8a8a8a" stroke-width="0.7"/>
<path d="M294.20 254.60 V256.20" stroke="#8a8a8a" stroke-width="0.7"/>
<path d="M323.40 254.60 V256.20" stroke="#8a8a8a" stroke-width="0.7"/>
<path d="M352.60 254.60 V256.20" stroke="#8a8a8a" stroke-width="0.7"/>
<text x="285.80" y="151.40" font-size="7.0" font-weight="bold" text-anchor="middle" fill="#111" >pSTAT1</text>
<text transform="translate(213.00,209.30) rotate(-90)" font-size="6.6" font-weight="bold" text-anchor="middle" fill="#000">Normalized Densitometry</text>
<rect x="263.8" y="159.00" width="66" height="9.5" fill="#fff" stroke="#999" stroke-width="0.7"/>
<rect x="266.00" y="162.10" width="4" height="4" fill="#ffffff" stroke="#333" stroke-width="0.7"/>
<text x="271.90" y="166.00" font-size="6.3" font-weight="normal" text-anchor="start" fill="#111" >0'</text>
<rect x="279.40" y="162.10" width="4" height="4" fill="#c2c2c2" stroke="#333" stroke-width="0.7"/>
<text x="285.30" y="166.00" font-size="6.3" font-weight="normal" text-anchor="start" fill="#111" >15'</text>
<rect x="296.40" y="162.10" width="4" height="4" fill="#9d9d9d" stroke="#333" stroke-width="0.7"/>
<text x="302.30" y="166.00" font-size="6.3" font-weight="normal" text-anchor="start" fill="#111" >30'</text>
<rect x="313.40" y="162.10" width="4" height="4" fill="#727272" stroke="#333" stroke-width="0.7"/>
<text x="319.30" y="166.00" font-size="6.3" font-weight="normal" text-anchor="start" fill="#111" >60'</text>
<text x="250.00" y="264.30" font-size="5.5" font-weight="normal" text-anchor="middle" fill="#111" stroke="#111" stroke-width="0.1">RC-K8</text>
<path d="M242.12 245.60 V241.10 M241.03 241.10 H243.22" stroke="#444" stroke-width="0.8" fill="none"/>
<rect x="239.40" y="245.60" width="5.45" height="9.00" fill="#ffffff" stroke="#2a2a2a" stroke-width="0.7"/>
<path d="M247.57 213.20 V200.60 M246.47 200.60 H248.67" stroke="#444" stroke-width="0.8" fill="none"/>
<rect x="244.85" y="213.20" width="5.45" height="41.40" fill="#c2c2c2" stroke="#2a2a2a" stroke-width="0.7"/>
<path d="M253.03 216.80 V207.80 M251.93 207.80 H254.12" stroke="#444" stroke-width="0.8" fill="none"/>
<rect x="250.30" y="216.80" width="5.45" height="37.80" fill="#9d9d9d" stroke="#2a2a2a" stroke-width="0.7"/>
<path d="M258.48 233.00 V224.90 M257.38 224.90 H259.58" stroke="#444" stroke-width="0.8" fill="none"/>
<rect x="255.75" y="233.00" width="5.45" height="21.60" fill="#727272" stroke="#2a2a2a" stroke-width="0.7"/>
<text x="279.40" y="264.30" font-size="5.5" font-weight="normal" text-anchor="middle" fill="#111" stroke="#111" stroke-width="0.1">OCI-LY-10</text>
<path d="M271.33 245.60 V244.25 M270.23 244.25 H272.43" stroke="#444" stroke-width="0.8" fill="none"/>
<rect x="268.60" y="245.60" width="5.45" height="9.00" fill="#ffffff" stroke="#2a2a2a" stroke-width="0.7"/>
<path d="M276.78 181.25 V177.20 M275.68 177.20 H277.88" stroke="#444" stroke-width="0.8" fill="none"/>
<rect x="274.05" y="181.25" width="5.45" height="73.35" fill="#c2c2c2" stroke="#2a2a2a" stroke-width="0.7"/>
<path d="M282.23 186.20 V174.95 M281.12 174.95 H283.33" stroke="#444" stroke-width="0.8" fill="none"/>
<rect x="279.50" y="186.20" width="5.45" height="68.40" fill="#9d9d9d" stroke="#2a2a2a" stroke-width="0.7"/>
<path d="M287.68 223.55 V213.20 M286.58 213.20 H288.78" stroke="#444" stroke-width="0.8" fill="none"/>
<rect x="284.95" y="223.55" width="5.45" height="31.05" fill="#727272" stroke="#2a2a2a" stroke-width="0.7"/>
<text x="308.60" y="264.30" font-size="5.5" font-weight="normal" text-anchor="middle" fill="#111" stroke="#111" stroke-width="0.1">MC116</text>
<path d="M300.53 245.60 V243.80 M299.43 243.80 H301.63" stroke="#444" stroke-width="0.8" fill="none"/>
<rect x="297.80" y="245.60" width="5.45" height="9.00" fill="#ffffff" stroke="#2a2a2a" stroke-width="0.7"/>
<path d="M305.98 188.00 V184.85 M304.88 184.85 H307.08" stroke="#444" stroke-width="0.8" fill="none"/>
<rect x="303.25" y="188.00" width="5.45" height="66.60" fill="#c2c2c2" stroke="#2a2a2a" stroke-width="0.7"/>
<path d="M311.43 183.95 V180.80 M310.32 180.80 H312.53" stroke="#444" stroke-width="0.8" fill="none"/>
<rect x="308.70" y="183.95" width="5.45" height="70.65" fill="#9d9d9d" stroke="#2a2a2a" stroke-width="0.7"/>
<path d="M316.88 188.45 V183.95 M315.78 183.95 H317.98" stroke="#444" stroke-width="0.8" fill="none"/>
<rect x="314.15" y="188.45" width="5.45" height="66.15" fill="#727272" stroke="#2a2a2a" stroke-width="0.7"/>
<text x="338.60" y="264.30" font-size="5.5" font-weight="normal" text-anchor="middle" fill="#111" stroke="#111" stroke-width="0.1">OCI-LY-3</text>
<path d="M329.73 245.60 V240.65 M328.62 240.65 H330.83" stroke="#444" stroke-width="0.8" fill="none"/>
<rect x="327.00" y="245.60" width="5.45" height="9.00" fill="#ffffff" stroke="#2a2a2a" stroke-width="0.7"/>
<path d="M335.18 206.00 V192.05 M334.07 192.05 H336.28" stroke="#444" stroke-width="0.8" fill="none"/>
<rect x="332.45" y="206.00" width="5.45" height="48.60" fill="#c2c2c2" stroke="#2a2a2a" stroke-width="0.7"/>
<path d="M340.62 225.35 V224.63 M339.52 224.63 H341.73" stroke="#444" stroke-width="0.8" fill="none"/>
<rect x="337.90" y="225.35" width="5.45" height="29.25" fill="#9d9d9d" stroke="#2a2a2a" stroke-width="0.7"/>
<path d="M346.08 228.50 V219.50 M344.98 219.50 H347.18" stroke="#444" stroke-width="0.8" fill="none"/>
<rect x="343.35" y="228.50" width="5.45" height="26.10" fill="#727272" stroke="#2a2a2a" stroke-width="0.7"/>
<path d="M241.00 196.20 V195.50 Q241.00 194.15 242.50 194.15 H243.30 M247.40 196.20 V195.50 Q247.40 194.15 245.90 194.15 H245.10" fill="none" stroke="#111" stroke-width="0.9" stroke-dasharray="1.0 0.5"/>
<path d="M239.70 196.00 H242.30 L241.00 198.20 Z" fill="#000"/>
<path d="M246.10 196.00 H248.70 L247.40 198.20 Z" fill="#000"/>
<text x="244.20" y="197.20" font-size="4.4" font-weight="bold" text-anchor="middle" fill="#111" >*</text>
<path d="M270.60 173.00 V172.30 Q270.60 170.95 272.10 170.95 H272.90 M277.00 173.00 V172.30 Q277.00 170.95 275.50 170.95 H274.70" fill="none" stroke="#111" stroke-width="0.9" stroke-dasharray="1.0 0.5"/>
<path d="M269.30 172.80 H271.90 L270.60 175.00 Z" fill="#000"/>
<path d="M275.70 172.80 H278.30 L277.00 175.00 Z" fill="#000"/>
<text x="273.80" y="174.00" font-size="4.4" font-weight="bold" text-anchor="middle" fill="#111" >*</text>
<path d="M300.00 179.40 V178.70 Q300.00 177.35 301.50 177.35 H302.30 M306.40 179.40 V178.70 Q306.40 177.35 304.90 177.35 H304.10" fill="none" stroke="#111" stroke-width="0.9" stroke-dasharray="1.0 0.5"/>
<path d="M298.70 179.20 H301.30 L300.00 181.40 Z" fill="#000"/>
<path d="M305.10 179.20 H307.70 L306.40 181.40 Z" fill="#000"/>
<text x="303.20" y="180.40" font-size="4.4" font-weight="bold" text-anchor="middle" fill="#111" >*</text>
<path d="M329.40 185.40 V184.70 Q329.40 183.35 330.90 183.35 H331.70 M335.80 185.40 V184.70 Q335.80 183.35 334.30 183.35 H333.50" fill="none" stroke="#111" stroke-width="0.9" stroke-dasharray="1.0 0.5"/>
<path d="M328.10 185.20 H330.70 L329.40 187.40 Z" fill="#000"/>
<path d="M334.50 185.20 H337.10 L335.80 187.40 Z" fill="#000"/>
<text x="332.60" y="186.40" font-size="4.4" font-weight="bold" text-anchor="middle" fill="#111" >*</text>
<path d="M402.3 164.60 V254.60 H519.4" fill="none" stroke="#8a8a8a" stroke-width="0.8"/>
<path d="M400.7 254.60 H402.3" stroke="#8a8a8a" stroke-width="0.7"/>
<text x="396.60" y="256.30" font-size="6.45" font-weight="normal" text-anchor="end" fill="#000" stroke="#000" stroke-width="0.12">0.0</text>
<path d="M400.7 239.60 H402.3" stroke="#8a8a8a" stroke-width="0.7"/>
<text x="396.60" y="241.30" font-size="6.45" font-weight="normal" text-anchor="end" fill="#000" stroke="#000" stroke-width="0.12">5.0</text>
<path d="M400.7 224.60 H402.3" stroke="#8a8a8a" stroke-width="0.7"/>
<text x="396.60" y="226.30" font-size="6.45" font-weight="normal" text-anchor="end" fill="#000" stroke="#000" stroke-width="0.12">10.0</text>
<path d="M400.7 209.60 H402.3" stroke="#8a8a8a" stroke-width="0.7"/>
<text x="396.60" y="211.30" font-size="6.45" font-weight="normal" text-anchor="end" fill="#000" stroke="#000" stroke-width="0.12">15.0</text>
<path d="M400.7 194.60 H402.3" stroke="#8a8a8a" stroke-width="0.7"/>
<text x="396.60" y="196.30" font-size="6.45" font-weight="normal" text-anchor="end" fill="#000" stroke="#000" stroke-width="0.12">20.0</text>
<path d="M400.7 179.60 H402.3" stroke="#8a8a8a" stroke-width="0.7"/>
<text x="396.60" y="181.30" font-size="6.45" font-weight="normal" text-anchor="end" fill="#000" stroke="#000" stroke-width="0.12">25.0</text>
<path d="M400.7 164.60 H402.3" stroke="#8a8a8a" stroke-width="0.7"/>
<text x="396.60" y="166.30" font-size="6.45" font-weight="normal" text-anchor="end" fill="#000" stroke="#000" stroke-width="0.12">30.0</text>
<path d="M431.57 254.60 V256.20" stroke="#8a8a8a" stroke-width="0.7"/>
<path d="M460.85 254.60 V256.20" stroke="#8a8a8a" stroke-width="0.7"/>
<path d="M490.12 254.60 V256.20" stroke="#8a8a8a" stroke-width="0.7"/>
<path d="M519.40 254.60 V256.20" stroke="#8a8a8a" stroke-width="0.7"/>
<text x="455.40" y="151.40" font-size="7.0" font-weight="bold" text-anchor="middle" fill="#111" >pSTAT3</text>
<text transform="translate(379.20,209.30) rotate(-90)" font-size="6.6" font-weight="bold" text-anchor="middle" fill="#000">Normalized Densitometry</text>
<rect x="431.6" y="158.80" width="66" height="9.5" fill="#fff" stroke="#999" stroke-width="0.7"/>
<rect x="433.80" y="161.90" width="4" height="4" fill="#ffffff" stroke="#333" stroke-width="0.7"/>
<text x="439.70" y="165.80" font-size="6.3" font-weight="normal" text-anchor="start" fill="#111" >0'</text>
<rect x="447.20" y="161.90" width="4" height="4" fill="#c2c2c2" stroke="#333" stroke-width="0.7"/>
<text x="453.10" y="165.80" font-size="6.3" font-weight="normal" text-anchor="start" fill="#111" >15'</text>
<rect x="464.20" y="161.90" width="4" height="4" fill="#9d9d9d" stroke="#333" stroke-width="0.7"/>
<text x="470.10" y="165.80" font-size="6.3" font-weight="normal" text-anchor="start" fill="#111" >30'</text>
<rect x="481.20" y="161.90" width="4" height="4" fill="#727272" stroke="#333" stroke-width="0.7"/>
<text x="487.10" y="165.80" font-size="6.3" font-weight="normal" text-anchor="start" fill="#111" >60'</text>
<text x="416.20" y="264.30" font-size="5.5" font-weight="normal" text-anchor="middle" fill="#111" stroke="#111" stroke-width="0.1">RC-K8</text>
<path d="M408.66 251.60 V250.10 M407.56 250.10 H409.76" stroke="#444" stroke-width="0.8" fill="none"/>
<rect x="405.94" y="251.60" width="5.45" height="3.00" fill="#ffffff" stroke="#2a2a2a" stroke-width="0.7"/>
<path d="M414.11 185.60 V171.20 M413.01 171.20 H415.21" stroke="#444" stroke-width="0.8" fill="none"/>
<rect x="411.39" y="185.60" width="5.45" height="69.00" fill="#c2c2c2" stroke="#2a2a2a" stroke-width="0.7"/>
<path d="M419.56 190.70 V179.60 M418.46 179.60 H420.66" stroke="#444" stroke-width="0.8" fill="none"/>
<rect x="416.84" y="190.70" width="5.45" height="63.90" fill="#9d9d9d" stroke="#2a2a2a" stroke-width="0.7"/>
<path d="M425.01 215.30 V205.10 M423.91 205.10 H426.11" stroke="#444" stroke-width="0.8" fill="none"/>
<rect x="422.29" y="215.30" width="5.45" height="39.30" fill="#727272" stroke="#2a2a2a" stroke-width="0.7"/>
<text x="446.00" y="264.30" font-size="5.5" font-weight="normal" text-anchor="middle" fill="#111" stroke="#111" stroke-width="0.1">OCI-LY-10</text>
<path d="M437.94 251.60 V248.60 M436.84 248.60 H439.04" stroke="#444" stroke-width="0.8" fill="none"/>
<rect x="435.21" y="251.60" width="5.45" height="3.00" fill="#ffffff" stroke="#2a2a2a" stroke-width="0.7"/>
<path d="M443.39 234.80 V234.50 M442.29 234.50 H444.49" stroke="#444" stroke-width="0.8" fill="none"/>
<rect x="440.66" y="234.80" width="5.45" height="19.80" fill="#c2c2c2" stroke="#2a2a2a" stroke-width="0.7"/>
<path d="M448.84 237.50 V234.20 M447.74 234.20 H449.94" stroke="#444" stroke-width="0.8" fill="none"/>
<rect x="446.11" y="237.50" width="5.45" height="17.10" fill="#9d9d9d" stroke="#2a2a2a" stroke-width="0.7"/>
<path d="M454.29 238.70 V233.60 M453.19 233.60 H455.39" stroke="#444" stroke-width="0.8" fill="none"/>
<rect x="451.56" y="238.70" width="5.45" height="15.90" fill="#727272" stroke="#2a2a2a" stroke-width="0.7"/>
<text x="475.20" y="264.30" font-size="5.5" font-weight="normal" text-anchor="middle" fill="#111" stroke="#111" stroke-width="0.1">MC116</text>
<path d="M467.21 251.60 V250.40 M466.11 250.40 H468.31" stroke="#444" stroke-width="0.8" fill="none"/>
<rect x="464.49" y="251.60" width="5.45" height="3.00" fill="#ffffff" stroke="#2a2a2a" stroke-width="0.7"/>
<path d="M472.66 224.00 V219.50 M471.56 219.50 H473.76" stroke="#444" stroke-width="0.8" fill="none"/>
<rect x="469.94" y="224.00" width="5.45" height="30.60" fill="#c2c2c2" stroke="#2a2a2a" stroke-width="0.7"/>
<path d="M478.11 224.00 V221.00 M477.01 221.00 H479.21" stroke="#444" stroke-width="0.8" fill="none"/>
<rect x="475.39" y="224.00" width="5.45" height="30.60" fill="#9d9d9d" stroke="#2a2a2a" stroke-width="0.7"/>
<path d="M483.56 220.70 V218.00 M482.46 218.00 H484.66" stroke="#444" stroke-width="0.8" fill="none"/>
<rect x="480.84" y="220.70" width="5.45" height="33.90" fill="#727272" stroke="#2a2a2a" stroke-width="0.7"/>
<text x="504.80" y="264.30" font-size="5.5" font-weight="normal" text-anchor="middle" fill="#111" stroke="#111" stroke-width="0.1">OCI-LY-3</text>
<path d="M496.49 251.60 V250.25 M495.39 250.25 H497.59" stroke="#444" stroke-width="0.8" fill="none"/>
<rect x="493.76" y="251.60" width="5.45" height="3.00" fill="#ffffff" stroke="#2a2a2a" stroke-width="0.7"/>
<path d="M501.94 247.40 V244.70 M500.84 244.70 H503.04" stroke="#444" stroke-width="0.8" fill="none"/>
<rect x="499.21" y="247.40" width="5.45" height="7.20" fill="#c2c2c2" stroke="#2a2a2a" stroke-width="0.7"/>
<path d="M507.39 248.60 V245.90 M506.29 245.90 H508.49" stroke="#444" stroke-width="0.8" fill="none"/>
<rect x="504.66" y="248.60" width="5.45" height="6.00" fill="#9d9d9d" stroke="#2a2a2a" stroke-width="0.7"/>
<path d="M512.84 248.60 V246.20 M511.74 246.20 H513.94" stroke="#444" stroke-width="0.8" fill="none"/>
<rect x="510.11" y="248.60" width="5.45" height="6.00" fill="#727272" stroke="#2a2a2a" stroke-width="0.7"/>
<path d="M408.20 164.80 V164.10 Q408.20 162.75 409.70 162.75 H410.50 M414.60 164.80 V164.10 Q414.60 162.75 413.10 162.75 H412.30" fill="none" stroke="#111" stroke-width="0.9" stroke-dasharray="1.0 0.5"/>
<path d="M406.90 164.60 H409.50 L408.20 166.80 Z" fill="#000"/>
<path d="M413.30 164.60 H415.90 L414.60 166.80 Z" fill="#000"/>
<text x="411.40" y="165.80" font-size="4.4" font-weight="bold" text-anchor="middle" fill="#111" >*</text>
<path d="M438.00 226.80 V226.10 Q438.00 224.75 439.50 224.75 H440.30 M444.40 226.80 V226.10 Q444.40 224.75 442.90 224.75 H442.10" fill="none" stroke="#111" stroke-width="0.9" stroke-dasharray="1.0 0.5"/>
<path d="M436.70 226.60 H439.30 L438.00 228.80 Z" fill="#000"/>
<path d="M443.10 226.60 H445.70 L444.40 228.80 Z" fill="#000"/>
<text x="441.20" y="227.80" font-size="4.4" font-weight="bold" text-anchor="middle" fill="#111" >*</text>
<path d="M466.60 212.40 V211.70 Q466.60 210.35 468.10 210.35 H468.90 M473.00 212.40 V211.70 Q473.00 210.35 471.50 210.35 H470.70" fill="none" stroke="#111" stroke-width="0.9" stroke-dasharray="1.0 0.5"/>
<path d="M465.30 212.20 H467.90 L466.60 214.40 Z" fill="#000"/>
<path d="M471.70 212.20 H474.30 L473.00 214.40 Z" fill="#000"/>
<text x="469.80" y="213.40" font-size="4.4" font-weight="bold" text-anchor="middle" fill="#111" >*</text>
<path d="M495.40 237.40 V236.70 Q495.40 235.35 496.90 235.35 H497.70 M501.80 237.40 V236.70 Q501.80 235.35 500.30 235.35 H499.50" fill="none" stroke="#111" stroke-width="0.9" stroke-dasharray="1.0 0.5"/>
<path d="M494.10 237.20 H496.70 L495.40 239.40 Z" fill="#000"/>
<path d="M500.50 237.20 H503.10 L501.80 239.40 Z" fill="#000"/>
<text x="498.60" y="238.40" font-size="4.4" font-weight="bold" text-anchor="middle" fill="#111" >*</text>
<path d="M235.8 302.40 V392.40 H352.6" fill="none" stroke="#8a8a8a" stroke-width="0.8"/>
<path d="M234.20000000000002 392.40 H235.8" stroke="#8a8a8a" stroke-width="0.7"/>
<text x="230.10" y="394.10" font-size="6.45" font-weight="normal" text-anchor="end" fill="#000" stroke="#000" stroke-width="0.12">0.0</text>
<path d="M234.20000000000002 382.40 H235.8" stroke="#8a8a8a" stroke-width="0.7"/>
<text x="230.10" y="384.10" font-size="6.45" font-weight="normal" text-anchor="end" fill="#000" stroke="#000" stroke-width="0.12">1.0</text>
<path d="M234.20000000000002 372.40 H235.8" stroke="#8a8a8a" stroke-width="0.7"/>
<text x="230.10" y="374.10" font-size="6.45" font-weight="normal" text-anchor="end" fill="#000" stroke="#000" stroke-width="0.12">2.0</text>
<path d="M234.20000000000002 362.40 H235.8" stroke="#8a8a8a" stroke-width="0.7"/>
<text x="230.10" y="364.10" font-size="6.45" font-weight="normal" text-anchor="end" fill="#000" stroke="#000" stroke-width="0.12">3.0</text>
<path d="M234.20000000000002 352.40 H235.8" stroke="#8a8a8a" stroke-width="0.7"/>
<text x="230.10" y="354.10" font-size="6.45" font-weight="normal" text-anchor="end" fill="#000" stroke="#000" stroke-width="0.12">4.0</text>
<path d="M234.20000000000002 342.40 H235.8" stroke="#8a8a8a" stroke-width="0.7"/>
<text x="230.10" y="344.10" font-size="6.45" font-weight="normal" text-anchor="end" fill="#000" stroke="#000" stroke-width="0.12">5.0</text>
<path d="M234.20000000000002 332.40 H235.8" stroke="#8a8a8a" stroke-width="0.7"/>
<text x="230.10" y="334.10" font-size="6.45" font-weight="normal" text-anchor="end" fill="#000" stroke="#000" stroke-width="0.12">6.0</text>
<path d="M234.20000000000002 322.40 H235.8" stroke="#8a8a8a" stroke-width="0.7"/>
<text x="230.10" y="324.10" font-size="6.45" font-weight="normal" text-anchor="end" fill="#000" stroke="#000" stroke-width="0.12">7.0</text>
<path d="M234.20000000000002 312.40 H235.8" stroke="#8a8a8a" stroke-width="0.7"/>
<text x="230.10" y="314.10" font-size="6.45" font-weight="normal" text-anchor="end" fill="#000" stroke="#000" stroke-width="0.12">8.0</text>
<path d="M234.20000000000002 302.40 H235.8" stroke="#8a8a8a" stroke-width="0.7"/>
<text x="230.10" y="304.10" font-size="6.45" font-weight="normal" text-anchor="end" fill="#000" stroke="#000" stroke-width="0.12">9.0</text>
<path d="M265.00 392.40 V394.00" stroke="#8a8a8a" stroke-width="0.7"/>
<path d="M294.20 392.40 V394.00" stroke="#8a8a8a" stroke-width="0.7"/>
<path d="M323.40 392.40 V394.00" stroke="#8a8a8a" stroke-width="0.7"/>
<path d="M352.60 392.40 V394.00" stroke="#8a8a8a" stroke-width="0.7"/>
<text x="285.80" y="289.80" font-size="7.0" font-weight="bold" text-anchor="middle" fill="#111" >pSTAT5</text>
<text transform="translate(213.00,345.60) rotate(-90)" font-size="6.6" font-weight="bold" text-anchor="middle" fill="#000">Normalized Densitometry</text>
<rect x="263.6" y="297.70" width="66" height="9.5" fill="#fff" stroke="#999" stroke-width="0.7"/>
<rect x="265.80" y="300.80" width="4" height="4" fill="#ffffff" stroke="#333" stroke-width="0.7"/>
<text x="271.70" y="304.70" font-size="6.3" font-weight="normal" text-anchor="start" fill="#111" >0'</text>
<rect x="279.20" y="300.80" width="4" height="4" fill="#c2c2c2" stroke="#333" stroke-width="0.7"/>
<text x="285.10" y="304.70" font-size="6.3" font-weight="normal" text-anchor="start" fill="#111" >15'</text>
<rect x="296.20" y="300.80" width="4" height="4" fill="#9d9d9d" stroke="#333" stroke-width="0.7"/>
<text x="302.10" y="304.70" font-size="6.3" font-weight="normal" text-anchor="start" fill="#111" >30'</text>
<rect x="313.20" y="300.80" width="4" height="4" fill="#727272" stroke="#333" stroke-width="0.7"/>
<text x="319.10" y="304.70" font-size="6.3" font-weight="normal" text-anchor="start" fill="#111" >60'</text>
<text x="250.00" y="401.90" font-size="5.5" font-weight="normal" text-anchor="middle" fill="#111" stroke="#111" stroke-width="0.1">RC-K8</text>
<path d="M242.12 382.40 V375.90 M241.03 375.90 H243.22" stroke="#444" stroke-width="0.8" fill="none"/>
<rect x="239.40" y="382.40" width="5.45" height="10.00" fill="#ffffff" stroke="#2a2a2a" stroke-width="0.7"/>
<path d="M247.57 344.90 V339.40 M246.47 339.40 H248.67" stroke="#444" stroke-width="0.8" fill="none"/>
<rect x="244.85" y="344.90" width="5.45" height="47.50" fill="#c2c2c2" stroke="#2a2a2a" stroke-width="0.7"/>
<path d="M253.03 337.90 V331.40 M251.93 331.40 H254.12" stroke="#444" stroke-width="0.8" fill="none"/>
<rect x="250.30" y="337.90" width="5.45" height="54.50" fill="#9d9d9d" stroke="#2a2a2a" stroke-width="0.7"/>
<path d="M258.48 352.40 V339.40 M257.38 339.40 H259.58" stroke="#444" stroke-width="0.8" fill="none"/>
<rect x="255.75" y="352.40" width="5.45" height="40.00" fill="#727272" stroke="#2a2a2a" stroke-width="0.7"/>
<text x="279.40" y="401.90" font-size="5.5" font-weight="normal" text-anchor="middle" fill="#111" stroke="#111" stroke-width="0.1">OCI-LY-10</text>
<path d="M271.33 382.40 V379.40 M270.23 379.40 H272.43" stroke="#444" stroke-width="0.8" fill="none"/>
<rect x="268.60" y="382.40" width="5.45" height="10.00" fill="#ffffff" stroke="#2a2a2a" stroke-width="0.7"/>
<path d="M276.78 382.40 V381.40 M275.68 381.40 H277.88" stroke="#444" stroke-width="0.8" fill="none"/>
<rect x="274.05" y="382.40" width="5.45" height="10.00" fill="#c2c2c2" stroke="#2a2a2a" stroke-width="0.7"/>
<path d="M282.23 372.90 V365.40 M281.12 365.40 H283.33" stroke="#444" stroke-width="0.8" fill="none"/>
<rect x="279.50" y="372.90" width="5.45" height="19.50" fill="#9d9d9d" stroke="#2a2a2a" stroke-width="0.7"/>
<path d="M287.68 371.90 V362.40 M286.58 362.40 H288.78" stroke="#444" stroke-width="0.8" fill="none"/>
<rect x="284.95" y="371.90" width="5.45" height="20.50" fill="#727272" stroke="#2a2a2a" stroke-width="0.7"/>
<text x="308.60" y="401.90" font-size="5.5" font-weight="normal" text-anchor="middle" fill="#111" stroke="#111" stroke-width="0.1">MC116</text>
<path d="M300.53 382.40 V380.40 M299.43 380.40 H301.63" stroke="#444" stroke-width="0.8" fill="none"/>
<rect x="297.80" y="382.40" width="5.45" height="10.00" fill="#ffffff" stroke="#2a2a2a" stroke-width="0.7"/>
<path d="M305.98 347.40 V332.40 M304.88 332.40 H307.08" stroke="#444" stroke-width="0.8" fill="none"/>
<rect x="303.25" y="347.40" width="5.45" height="45.00" fill="#c2c2c2" stroke="#2a2a2a" stroke-width="0.7"/>
<path d="M311.43 331.40 V325.40 M310.32 325.40 H312.53" stroke="#444" stroke-width="0.8" fill="none"/>
<rect x="308.70" y="331.40" width="5.45" height="61.00" fill="#9d9d9d" stroke="#2a2a2a" stroke-width="0.7"/>
<path d="M316.88 322.40 V311.40 M315.78 311.40 H317.98" stroke="#444" stroke-width="0.8" fill="none"/>
<rect x="314.15" y="322.40" width="5.45" height="70.00" fill="#727272" stroke="#2a2a2a" stroke-width="0.7"/>
<text x="338.60" y="401.90" font-size="5.5" font-weight="normal" text-anchor="middle" fill="#111" stroke="#111" stroke-width="0.1">OCI-LY-3</text>
<path d="M329.73 381.90 V381.40 M328.62 381.40 H330.83" stroke="#444" stroke-width="0.8" fill="none"/>
<rect x="327.00" y="381.90" width="5.45" height="10.50" fill="#ffffff" stroke="#2a2a2a" stroke-width="0.7"/>
<path d="M335.18 374.40 V369.90 M334.07 369.90 H336.28" stroke="#444" stroke-width="0.8" fill="none"/>
<rect x="332.45" y="374.40" width="5.45" height="18.00" fill="#c2c2c2" stroke="#2a2a2a" stroke-width="0.7"/>
<path d="M340.62 369.40 V363.40 M339.52 363.40 H341.73" stroke="#444" stroke-width="0.8" fill="none"/>
<rect x="337.90" y="369.40" width="5.45" height="23.00" fill="#9d9d9d" stroke="#2a2a2a" stroke-width="0.7"/>
<path d="M346.08 379.40 V375.90 M344.98 375.90 H347.18" stroke="#444" stroke-width="0.8" fill="none"/>
<rect x="343.35" y="379.40" width="5.45" height="13.00" fill="#727272" stroke="#2a2a2a" stroke-width="0.7"/>
<path d="M241.00 329.40 V328.70 Q241.00 327.35 242.50 327.35 H243.30 M247.40 329.40 V328.70 Q247.40 327.35 245.90 327.35 H245.10" fill="none" stroke="#111" stroke-width="0.9" stroke-dasharray="1.0 0.5"/>
<path d="M239.70 329.20 H242.30 L241.00 331.40 Z" fill="#000"/>
<path d="M246.10 329.20 H248.70 L247.40 331.40 Z" fill="#000"/>
<text x="244.20" y="330.40" font-size="4.4" font-weight="bold" text-anchor="middle" fill="#111" >*</text>
<path d="M299.00 325.40 V324.70 Q299.00 323.35 300.50 323.35 H301.30 M305.40 325.40 V324.70 Q305.40 323.35 303.90 323.35 H303.10" fill="none" stroke="#111" stroke-width="0.9" stroke-dasharray="1.0 0.5"/>
<path d="M297.70 325.20 H300.30 L299.00 327.40 Z" fill="#000"/>
<path d="M304.10 325.20 H306.70 L305.40 327.40 Z" fill="#000"/>
<text x="302.20" y="326.40" font-size="4.4" font-weight="bold" text-anchor="middle" fill="#111" >*</text>
</g>
</svg></body></html>
